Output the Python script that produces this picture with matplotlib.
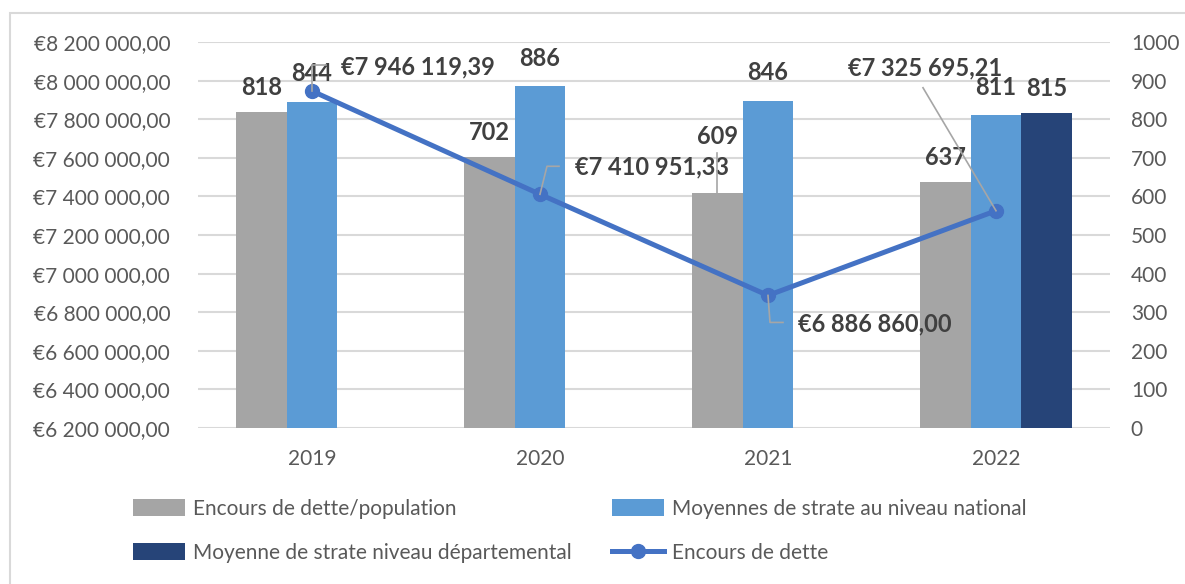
import numpy as np
import matplotlib.pyplot as plt
from matplotlib.patches import Patch, Rectangle
from matplotlib.lines import Line2D

plt.rcParams['font.family'] = ['Lato', 'DejaVu Sans']

# données
annees = ['2019', '2020', '2021', '2022']
encours_pop = [818, 702, 609, 637]
moy_nationale = [844, 886, 846, 811]
moy_departementale = [np.nan, np.nan, np.nan, 815]
encours_dette = [7946119.39, 7410951.33, 6886860.00, 7325695.21]

gris = '#A5A5A5'
bleu = '#5B9BD5'
marine = '#264478'
bleu_ligne = '#4472C4'
txt = '#404040'
tick_col = '#595959'
grille = '#D9D9D9'


def euro(v):
    s = f"{v:,.2f}"
    return '€' + s.replace(',', ' ').replace('.', ',')


W, H = 1185, 584
fig = plt.figure(figsize=(W / 100, H / 100), dpi=100)
ax = fig.add_axes([198 / W, 1 - 428 / H, (1110 - 198) / W, (428 - 42) / H])
ax2 = ax.twinx()

x = np.arange(len(annees))
bw = 0.222
b1 = ax.bar(x - bw, encours_pop, bw, color=gris, label='Encours de dette/population')
b2 = ax.bar(x, moy_nationale, bw, color=bleu, label='Moyennes de strate au niveau national')
b3 = ax.bar(x + bw, moy_departementale, bw, color=marine,
            label='Moyenne de strate niveau départemental')
ln, = ax2.plot(x, encours_dette, color=bleu_ligne, lw=3.6, marker='o', ms=10,
               label='Encours de dette')

ax.set_xlim(-0.5, len(annees) - 0.5)
ax.set_ylim(0, 1000)
ax.set_yticks(np.arange(0, 1001, 100))
ax2.set_ylim(6200000, 8200000)
ax2.set_yticks(np.arange(6200000, 8200001, 200000))
ax2.set_yticklabels([euro(v) for v in ax2.get_yticks()])
ax.yaxis.tick_right()
ax2.yaxis.tick_left()
ax.set_xticks(x)
ax.set_xticklabels(annees)

ax.set_axisbelow(True)
ax.grid(axis='y', color=grille, lw=1.5)
for a in (ax, ax2):
    for s in a.spines.values():
        s.set_visible(False)
    a.tick_params(length=0, labelsize=15, colors=tick_col)
ax.tick_params(axis='x', pad=15)
ax.tick_params(axis='y', pad=15)
ax2.tick_params(axis='y', pad=20)

# étiquettes des barres (décalage vertical en pixels)
dy_gris = [25, 25, 56, 25]
dy_bleu = [29, 28, 29, 27]
dy_marine = [0, 0, 0, 25]
for serie, dx, dys in ((encours_pop, -bw, dy_gris), (moy_nationale, 0, dy_bleu),
                       (moy_departementale, bw, dy_marine)):
    for i, v in enumerate(serie):
        if np.isnan(v):
            continue
        ax.annotate(f"{v:.0f}", (x[i] + dx, v), xytext=(0, dys[i]),
                    textcoords='offset pixels', ha='center', va='center',
                    fontsize=17, fontweight='bold', color=txt)

fig.canvas.draw()
inv = fig.transFigure.inverted()


def leader(a, pt, offs):
    px, py = a.transData.transform(pt)
    pts = [(px + ox, py + oy) for ox, oy in offs]
    f = inv.transform(pts)
    fig.add_artist(Line2D(f[:, 0], f[:, 1], color='#A6A6A6', lw=1.2))


# ligne de rappel pour 609
leader(ax, (x[2] - bw, encours_pop[2]), [(0, 0), (0, 40)])

# étiquettes de la courbe
lab_offs = [(29, 24, 'left'), (35, 27, 'left'), (30, -28, 'left'), (-71, 143, 'center')]
lead_offs = [[(0, 0), (0, 26), (14, 26)],
             [(0, 0), (7, 28), (19, 28)],
             [(0, 0), (2, -27), (15, -27)],
             [(0, 0), (-73, 123)]]
for i, v in enumerate(encours_dette):
    ox, oy, ha = lab_offs[i]
    leader(ax2, (x[i], v), lead_offs[i])
    ax2.annotate(euro(v), (x[i], v), xytext=(ox, oy), textcoords='offset pixels',
                 ha=ha, va='center', fontsize=17, fontweight='bold', color=txt)

ax2.set_zorder(ax.get_zorder() + 1)

fig.legend(handles=[b1, b3, b2, ln], ncol=2, loc='upper left',
           bbox_to_anchor=(133 / W, 1 - 499 / H), frameon=False, fontsize=15,
           handlelength=2.5, handleheight=0.87, handletextpad=0.4,
           columnspacing=1.9, labelspacing=1.15, borderpad=0, borderaxespad=0,
           labelcolor=tick_col)

fig.add_artist(Rectangle((10 / W, -0.05), 1.1, 1 - 13 / H + 0.05, transform=fig.transFigure,
                         facecolor='none', edgecolor=grille, lw=1.5))

fig.savefig('out.png', dpi=100)
